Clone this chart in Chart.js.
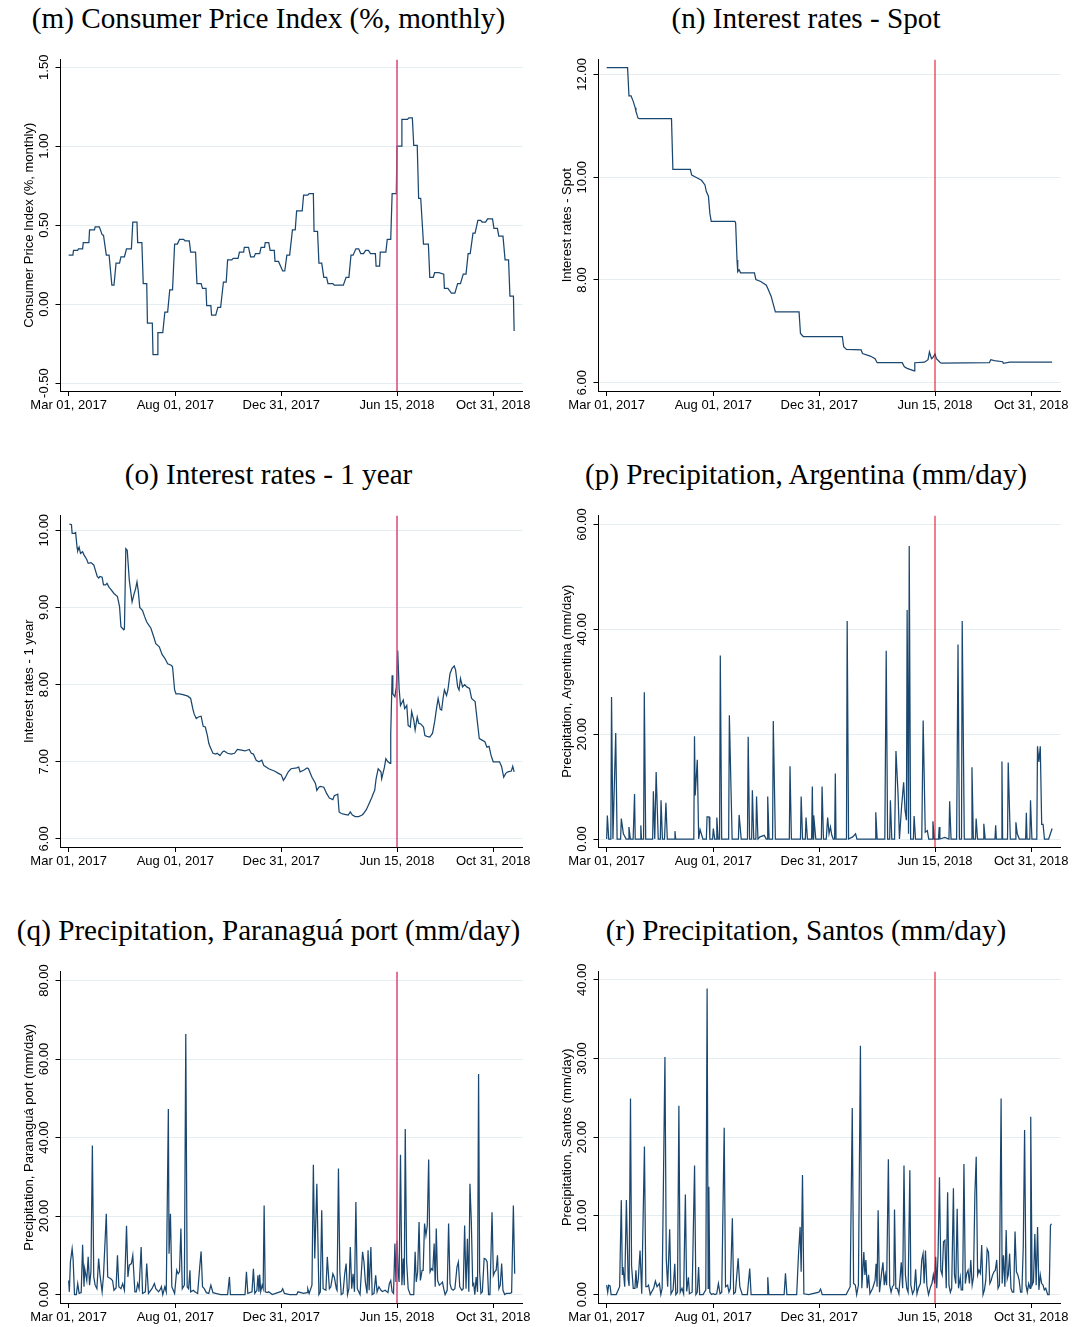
<!DOCTYPE html>
<html>
<head>
<meta charset="utf-8">
<script src="https://cdn.jsdelivr.net/npm/chart.js@4.4.1/dist/chart.umd.min.js"></script>
<style>
  body { margin: 0; background: #fff; }
  #page { position: relative; width: 1074px; height: 1327px; overflow: hidden; background: #fff; }
  .panel { position: absolute; }
  .panel h2 {
    position: absolute; left: 0; right: 0; top: 0; margin: 0;
    font: normal 29.2px "Liberation Serif", serif; line-height: 36px;
    text-align: center; color: #000; white-space: nowrap;
  }
  .panel canvas { position: absolute; left: 0; top: 0; }
</style>
</head>
<body>
<div id="page"></div>
<script>
// x values are days since Mar 01, 2017
const xTickDays = [0, 153, 305, 471, 609];
const xTickLabels = ["Mar 01, 2017", "Aug 01, 2017", "Dec 31, 2017", "Jun 15, 2018", "Oct 31, 2018"];
const eventDay = 471;

// (m) CPI, % monthly
const cpiTicks = [-0.5, 0, 0.5, 1, 1.5];
const cpiSeries = [[0,0.31],[6,0.31],[7,0.34],[13,0.34],[14,0.35],[20,0.35],[21,0.39],[29,0.39],[30,0.47],[37,0.47],[38,0.49],[44,0.49],[48,0.44],[50,0.435],[54,0.31],[58,0.31],[62,0.12],[65,0.12],[68,0.26],[73,0.26],[75,0.30],[80,0.30],[83,0.35],[90,0.35],[92,0.52],[98,0.52],[99,0.39],[105,0.39],[107,0.13],[112,0.13],[113,-0.12],[120,-0.12],[121,-0.32],[127,-0.32],[128,-0.18],[135,-0.18],[138,-0.05],[142,-0.05],[145,0.09],[149,0.09],[152,0.38],[156,0.38],[159,0.41],[165,0.41],[167,0.40],[173,0.40],[175,0.33],[182,0.33],[184,0.13],[190,0.13],[192,0.10],[197,0.10],[198,-0.01],[204,-0.01],[205,-0.07],[211,-0.07],[214,-0.02],[218,-0.02],[222,0.14],[226,0.14],[228,0.28],[234,0.28],[236,0.29],[243,0.29],[245,0.33],[251,0.33],[252,0.36],[258,0.36],[261,0.30],[266,0.30],[268,0.32],[274,0.32],[276,0.36],[281,0.36],[282,0.39],[287,0.39],[289,0.34],[295,0.34],[296,0.27],[301,0.27],[307,0.21],[310,0.21],[313,0.31],[317,0.31],[321,0.47],[325,0.47],[327,0.59],[335,0.59],[337,0.69],[343,0.69],[345,0.70],[351,0.70],[352,0.46],[357,0.46],[359,0.26],[363,0.26],[366,0.17],[370,0.17],[372,0.13],[379,0.13],[381,0.12],[394,0.12],[398,0.17],[402,0.17],[405,0.31],[408,0.31],[412,0.35],[416,0.35],[419,0.32],[423,0.32],[426,0.34],[430,0.34],[433,0.32],[440,0.32],[441,0.24],[446,0.24],[447,0.33],[455,0.33],[457,0.41],[462,0.41],[464,0.70],[470,0.70],[471,1.00],[477,1.00],[478,1.17],[486,1.17],[488,1.18],[493,1.18],[495,1.005],[500,1.005],[502,0.67],[505,0.67],[509,0.38],[516,0.38],[518,0.17],[523,0.17],[525,0.20],[531,0.20],[538,0.19],[539,0.10],[544,0.10],[549,0.07],[554,0.07],[558,0.13],[562,0.13],[566,0.19],[570,0.19],[573,0.32],[576,0.32],[580,0.45],[583,0.45],[587,0.53],[591,0.53],[593,0.52],[598,0.52],[601,0.54],[608,0.54],[610,0.48],[615,0.48],[617,0.43],[623,0.43],[626,0.28],[631,0.28],[633,0.05],[638,0.05],[639,-0.17]];

// (n) spot interest rate
const spotTicks = [6, 8, 10, 12];
const spotSeries = [[0,12.13],[30,12.13],[32,11.58],[35,11.58],[38,11.48],[41,11.35],[42,11.28],[45,11.15],[47,11.14],[93,11.14],[95,10.15],[120,10.15],[122,10.04],[128,10.0],[136,9.94],[141,9.85],[143,9.72],[146,9.63],[148,9.30],[150,9.14],[184,9.14],[185,9.11],[187,8.39],[188,8.16],[190,8.2],[192,8.14],[212,8.14],[214,8.01],[221,7.97],[229,7.90],[231,7.84],[236,7.68],[238,7.58],[242,7.38],[276,7.38],[278,6.96],[282,6.90],[338,6.90],[340,6.70],[344,6.65],[365,6.64],[367,6.57],[378,6.52],[385,6.47],[388,6.39],[424,6.39],[427,6.31],[431,6.28],[441,6.23],[442,6.39],[456,6.40],[461,6.45],[463,6.60],[466,6.47],[468,6.49],[471,6.56],[473,6.47],[478,6.40],[480,6.38],[549,6.39],[551,6.45],[556,6.43],[568,6.41],[569,6.38],[578,6.40],[639,6.40]];

// (o) 1-year interest rate
const oneYearTicks = [6, 7, 8, 9, 10];
const oneYearSeries = [[1,10.08],[4,10.07],[5,9.96],[8,9.96],[10,9.97],[12,9.78],[13,9.73],[15,9.78],[17,9.70],[20,9.72],[22,9.68],[26,9.62],[28,9.57],[32,9.58],[36,9.55],[41,9.40],[43,9.38],[45,9.40],[48,9.39],[50,9.29],[53,9.29],[55,9.31],[58,9.26],[60,9.24],[65,9.18],[70,9.14],[73,9.01],[75,8.75],[79,8.71],[80,8.72],[82,9.76],[84,9.74],[87,9.35],[91,9.07],[94,9.18],[96,9.24],[98,9.33],[100,9.20],[102,9.00],[106,8.96],[109,8.88],[112,8.81],[115,8.77],[118,8.73],[122,8.62],[125,8.53],[130,8.49],[134,8.39],[138,8.34],[142,8.27],[147,8.25],[149,8.23],[152,7.93],[154,7.88],[159,7.88],[164,7.87],[171,7.85],[175,7.82],[178,7.69],[180,7.62],[183,7.56],[186,7.58],[190,7.59],[193,7.46],[196,7.45],[199,7.34],[201,7.24],[203,7.19],[207,7.11],[211,7.10],[213,7.11],[217,7.08],[221,7.13],[223,7.14],[228,7.11],[233,7.10],[238,7.11],[242,7.16],[248,7.15],[253,7.14],[259,7.16],[262,7.11],[265,7.10],[269,7.02],[273,7.00],[277,7.02],[280,6.95],[287,6.91],[295,6.88],[301,6.85],[305,6.83],[308,6.76],[311,6.80],[315,6.87],[319,6.91],[327,6.92],[330,6.93],[332,6.87],[337,6.89],[342,6.92],[344,6.91],[349,6.80],[354,6.72],[356,6.63],[359,6.67],[361,6.68],[366,6.67],[370,6.59],[374,6.53],[379,6.51],[381,6.56],[386,6.58],[388,6.35],[391,6.33],[396,6.32],[401,6.31],[404,6.35],[407,6.31],[411,6.29],[416,6.29],[421,6.31],[423,6.33],[427,6.38],[431,6.46],[435,6.54],[437,6.59],[439,6.63],[441,6.78],[444,6.91],[448,6.87],[449,6.78],[453,6.93],[455,7.04],[458,7.00],[461,6.98],[462,7.36],[464,8.12],[465,7.88],[468,7.84],[470,7.97],[472,8.44],[474,7.95],[476,7.73],[480,7.80],[482,7.69],[485,7.73],[487,7.47],[490,7.45],[492,7.65],[495,7.54],[497,7.41],[500,7.58],[502,7.50],[505,7.49],[509,7.45],[511,7.34],[514,7.33],[518,7.32],[522,7.37],[525,7.52],[528,7.71],[530,7.82],[533,7.68],[535,7.67],[537,7.82],[539,7.93],[542,7.86],[544,7.93],[547,8.14],[550,8.21],[553,8.24],[555,8.19],[558,7.97],[560,7.93],[562,8.08],[565,7.97],[568,8.00],[571,7.97],[575,7.95],[578,7.82],[583,7.78],[586,7.54],[589,7.30],[593,7.28],[597,7.26],[600,7.19],[603,7.20],[606,7.08],[609,7.00],[613,7.00],[618,7.00],[621,6.94],[624,6.80],[627,6.85],[630,6.87],[635,6.88],[637,6.94],[639,6.87]];

// (p) precipitation, Argentina (mm/day)
const argentinaTicks = [0, 20, 40, 60];
const argentinaSeries = [[0,0],[1,4.5],[3,0],[6,0],[7,27.1],[9,0],[13,20.2],[15,0],[20,0],[21,3.9],[24,1.0],[28,0],[31,0],[32,2.3],[34,0],[38,0],[40,8.6],[41,0],[48,0],[49,2.6],[50,0],[53,0],[54,28],[56,0],[66,0],[67,9.1],[69,0],[71,12.8],[74,0],[77,0],[78,7.4],[80,0],[83,0],[85,6.9],[87,0],[97,0],[98,1.5],[99,0],[125,0],[126,19.6],[127,8.3],[130,15.1],[132,0],[134,1.8],[138,0],[143,0],[144,4.2],[147,4.2],[148,0],[152,0],[153,2.0],[155,0],[157,0],[158,4.1],[160,0],[162,0],[163,35],[165,0],[175,0],[176,23.6],[180,0],[189,0],[190,4.6],[193,0],[202,0],[203,19.5],[205,0],[208,0],[209,9.3],[211,0],[214,0],[215,8.1],[217,0],[220,0.4],[226,0.7],[229,0],[230,0],[231,8.1],[233,0],[238,0],[239,22.5],[242,0],[262,0],[263,13.9],[265,0],[278,0],[279,8.1],[281,0],[285,0],[286,4.1],[288,0],[294,0],[295,10.0],[296,0],[297,4.5],[300,0],[308,0],[309,10.0],[311,0],[315,0],[317,4.1],[319,1.0],[321,2.3],[323,0.7],[325,0],[327,0],[328,12.5],[329,0],[344,0],[345,41.6],[347,0],[353,0.4],[357,1.0],[359,0],[385,0],[386,5.1],[388,0],[399,0],[401,35.9],[403,0],[406,0],[407,7.4],[409,0],[413,0],[415,16.8],[418,8.5],[420,0],[423,6.1],[426,10.8],[428,5.5],[430,3.6],[431,43.7],[433,1.0],[434,55.9],[436,0],[440,0],[441,4.4],[443,0],[452,0],[454,22.6],[457,1.3],[460,1.6],[462,0],[467,0],[468,3.4],[470,0],[476,0],[477,2.3],[478,0],[485,0.3],[491,0],[492,7.2],[494,0],[502,0],[504,37.1],[506,0],[509,0],[510,41.6],[513,0],[523,0],[524,13.7],[526,0],[529,0],[530,3.9],[532,0],[540,0],[541,2.9],[543,0],[557,0],[558,2.6],[559,0],[566,0],[567,14.8],[568,0],[575,0],[576,14.6],[579,0],[586,0],[587,3.2],[589,1.0],[592,0],[601,0],[602,5.0],[603,0],[607,0],[608,7.4],[610,0],[617,0],[618,17.7],[620,14.7],[622,17.7],[624,2.8],[626,2.8],[628,0],[634,0],[639,2.0]];

// (q) precipitation, Paranaguá port (mm/day)
const paranaguaTicks = [0, 20, 40, 60, 80];
const paranaguaSeries = [[0,3.6],[1,0.7],[2.5,8.3],[5,11.7],[6.4,9.0],[8.4,0],[11,0],[13,2.8],[15,0.3],[18,0.5],[20,12.7],[22,2.0],[23,6.6],[26,3.6],[28,9.6],[30,2.4],[32,5.9],[34,38],[36,4.5],[38,2.4],[40.5,1.5],[43,9.2],[45,4.9],[48,0.7],[50,4.9],[54,20.6],[56,4.5],[60,4.1],[63,3.6],[65,1.1],[68,1.7],[70,10.0],[72,2.0],[75,1.5],[77.5,2.8],[80,1.1],[83,17.5],[85,4.5],[87,7.5],[90,7.9],[92,10.0],[95,0.7],[97,0.7],[99,2.8],[101,1.5],[104,12.1],[106,0.3],[110,0.7],[112,7.9],[114.5,0.3],[119.5,1.5],[123,2.8],[125,1.5],[129,0.7],[132,1.5],[133,2.0],[135,0],[138,2.0],[140,0.7],[143,47.3],[144,10.4],[146,20.6],[148,2.0],[152,0.3],[155,6.2],[157,5.3],[159,5.8],[161,16.8],[163,1.5],[166,2.4],[168,66.4],[170,2.0],[172,1.5],[174,6.2],[175,0.7],[179,1.1],[181,0.7],[185,0.3],[188,7.0],[190,11.0],[192,2.0],[194.5,1.5],[197.5,0.5],[201,0.3],[204,2.4],[207,0.5],[211,0.3],[218,0],[228,0],[230.6,4.5],[232,0],[253,0],[255,5.8],[257,0.3],[263,0.7],[265,6.6],[267,0.3],[270,1.1],[271.5,4.9],[273,0.7],[274,5.1],[275.5,0.8],[277.5,2.4],[279,1.5],[280.4,22.7],[282,0.7],[285,0.5],[287,0.7],[292,0],[305,0.8],[307,1.5],[309.5,0.3],[317,0],[327,0],[329,0.7],[337,0.3],[342,0.5],[343,1.5],[345,0.3],[349,2.4],[351,33.1],[353,9.2],[356,28.2],[359,0],[361,0.7],[363,21.5],[365,1.5],[369,1.1],[371,9.6],[374,1.5],[376,2.0],[379,5.3],[381,4.5],[384,1.5],[385,1.1],[387,32.1],[389,5.8],[391,0],[393.5,0.3],[396,5.3],[398,7.9],[400,0],[402,1.5],[404,12.1],[406,1.5],[408,5.3],[410,0.7],[412,23.6],[414,1.5],[418,0],[421.6,10.9],[423.6,8.3],[425.6,3.2],[428,0.3],[429.5,11.3],[431,1.1],[433.5,12.1],[435.4,0],[438,0.3],[440.4,4.9],[442.4,0.7],[445,2.0],[448,1.1],[450,0.8],[454,1.1],[458,0.5],[460,2.8],[462,3.6],[464,0.7],[466,0.3],[468,13.0],[469.5,3.2],[471,13.8],[472.5,5.8],[474,3.2],[476,35.6],[478,2.4],[480,9.2],[481.4,2.4],[482.8,42.2],[484.8,8.3],[487,1.5],[490,0],[495,0],[497,10.9],[498.6,3.2],[500.6,5.8],[502.6,18.5],[504.5,3.6],[507,6.2],[508.5,6.2],[510.5,18.1],[512.5,15.1],[514.4,17.6],[516.4,34.4],[518.4,5.8],[520.4,6.6],[522.3,6.2],[524.3,13.0],[525.8,2.0],[527.3,16.8],[529.2,3.6],[531.7,2.4],[534.2,2.8],[536.2,3.2],[538,1.5],[540,0],[543,1.1],[545,18.1],[547,2.8],[549,1.5],[551.4,1.1],[554,1.5],[557,7.0],[559,8.3],[561,2.0],[564,1.1],[566,1.5],[568,17.6],[570,1.5],[572,14.2],[574,0.7],[575.6,28.2],[577.6,18.5],[579.6,2.4],[581,2.8],[582.6,0],[584.5,4.5],[586.5,0.7],[588,56.2],[589.5,5.8],[591.4,0.3],[593.4,0.7],[596,9.2],[598.4,9.0],[600.3,8.3],[602.3,0],[604.3,0],[607.3,21.0],[609.2,4.9],[611.2,5.8],[613.2,6.2],[615.1,10.0],[617.1,1.5],[619.1,2.4],[621.1,7.9],[623,1.1],[625.5,0],[628,0.3],[633,0.3],[635.4,0.5],[637.9,22.7],[639.8,5.3]];

// (r) precipitation, Santos (mm/day)
const santosTicks = [0, 10, 20, 30, 40];
const santosSeries = [[0,1.2],[1.5,0.3],[2.9,1.2],[4.9,1.1],[6.4,0],[13.7,0],[18.6,1.0],[21,12.0],[22.5,2.5],[23.5,3.5],[25.9,1.0],[28.3,12.0],[30.8,2.0],[32.2,1.1],[34.2,24.9],[35.7,3.7],[38.1,0.8],[40.6,0.8],[42,3.1],[43.5,0.8],[45.4,2.0],[47.9,5.6],[50.3,0.1],[54.2,18.8],[56.2,1.0],[58.1,1.0],[60.1,1.2],[62.5,0],[67.4,0.8],[69.9,1.7],[72.3,1.0],[75.7,1.4],[77.7,0],[79.6,0.8],[83.6,30.2],[85.5,4.6],[87.5,1.0],[90.4,8.3],[92.3,0.1],[95.3,0.6],[97.7,3.9],[99.2,0],[101.6,0.3],[103.6,24.0],[105.5,0.3],[108,0.8],[110.4,0.1],[112.9,12.7],[114.8,0.4],[117.3,2.2],[118.7,0.1],[122.6,0.3],[126.1,16.4],[128,0],[130,0.3],[131.9,3.5],[133.4,0],[138.3,0],[142.2,0.6],[144.1,38.9],[145.6,0.8],[146.6,13.7],[148,0.3],[150.5,0],[152.9,0.1],[155.4,0],[157.8,0.1],[160.3,1.4],[162.7,0.1],[165.1,0.3],[168.6,21.2],[170.5,1.0],[173.5,1.2],[175.4,0.3],[177.4,0.8],[180.3,9.7],[182.2,0.1],[184.7,0.3],[188.6,4.6],[191,1.0],[194.5,0],[201.8,0],[205.2,3.3],[207.2,0],[216.5,0],[230.1,0],[231.1,2.2],[232.6,0],[254.6,0],[256.5,2.7],[258.5,0],[272.6,0],[275.1,5.0],[277.5,8.6],[279,2.9],[280.9,15.2],[282.9,0.1],[289.7,0],[304.4,0.3],[306.8,0.7],[309.3,0],[343.5,0],[349.3,1.0],[352.3,23.7],[354.2,1.4],[356.7,1.2],[358.6,0],[361.1,1.2],[364,31.6],[366,0.8],[368.9,5.4],[370.4,2.5],[371.8,4.4],[373.8,0.8],[375.7,2.5],[377.7,0.1],[381.6,0.8],[385,1.8],[386.5,3.9],[387.9,1.0],[389.4,10.7],[391.4,0.3],[394.3,2.7],[396.3,4.1],[398.2,1.2],[399.7,2.5],[401.6,1.2],[404.1,17.2],[406,1.2],[408,0.3],[409.9,1.0],[411.9,1.2],[412.9,10.8],[414.8,0.8],[416.8,0.8],[419.2,0.1],[422.6,4.1],[424.6,0.8],[426.5,16.4],[428.5,2.5],[430.5,0.8],[432.4,0.3],[434.9,15.8],[436.3,1.2],[438.8,0.1],[441.2,0.6],[443.2,3.2],[445.1,0.1],[447.1,0.8],[450,1.4],[452,4.4],[453.9,5.2],[455.4,1.4],[457.3,5.6],[459.3,1.2],[461.7,0],[464.7,1.0],[466.6,1.4],[468.6,2.5],[470.5,1.4],[472,4.8],[473.5,0.8],[475.4,5.2],[477.4,14.9],[479.3,3.1],[481.3,2.5],[483.2,6.7],[485.2,6.9],[487.1,0.8],[489.1,13.0],[491,1.2],[493,0.3],[494.9,0.8],[497.4,13.5],[498.9,2.5],[500.8,1.4],[502.8,10.9],[504.7,0.8],[507.2,2.2],[508.6,0.6],[510.6,0.6],[512.5,16.6],[514.5,1.4],[516.5,2.7],[518.4,3.1],[520.4,1.4],[522.3,4.4],[524.3,1.2],[526.2,2.2],[528.2,12.8],[530.1,17.5],[532.1,2.5],[534,3.1],[536,2.7],[538,6.3],[539.9,0],[541.9,0.6],[543.8,1.8],[545.8,5.8],[547.7,5.4],[549.7,1.4],[551.6,1.8],[553.6,2.5],[555.6,2.9],[557.5,3.1],[559.5,4.4],[561.4,0.8],[563.4,1.2],[565.8,24.9],[567.3,1.4],[569.2,5.0],[571.2,1.0],[573.1,8.2],[574.6,2.0],[576.1,2.5],[578,5.2],[580,0.8],[581.9,0.3],[583.9,0.3],[585.8,8.0],[587.8,2.9],[589.8,2.5],[591.7,1.8],[593.7,0.3],[595.6,0.3],[597.6,6.1],[599.5,20.9],[601.5,1.2],[603.4,0.3],[605.4,1.4],[607.3,0.8],[608.3,22.6],[610.3,1.2],[612.2,1.6],[614.2,7.7],[616.1,1.2],[618.1,8.6],[620,0.6],[622,2.5],[624,1.4],[625.9,1.2],[627.8,0.6],[629.8,0.8],[632.7,0],[634.7,0],[636.6,8.8],[638.1,9.0]];

const navy = "#1a476f";
const gridColor = "#e4edf0";
const sans = "'Liberation Sans', Arial, sans-serif";
const xMin = -11.7, xMax = 651;

// chart area inside each panel canvas
const AREA_LEFT = 60.5, AREA_RIGHT = 522.5, AREA_TOP = 59.5, AREA_BOTTOM = 391, X_AXIS_H = 22;
const Y_TICK_SIZE = 13;

const panels = [
  { title: "(m) Consumer Price Index (%, monthly)", yTitle: "Consumer Price Index (%, monthly)", series: cpiSeries, yTicks: cpiTicks, yMin: -0.55, yMax: 1.549, col: 0, row: 0 },
  { title: "(n) Interest rates - Spot", yTitle: "Interest rates - Spot", series: spotSeries, yTicks: spotTicks, yMin: 5.84, yMax: 12.29, col: 1, row: 0 },
  { title: "(o) Interest rates - 1 year", yTitle: "Interest rates - 1 year", series: oneYearSeries, yTicks: oneYearTicks, yMin: 5.896, yMax: 10.19, col: 0, row: 1 },
  { title: "(p) Precipitation, Argentina (mm/day)", yTitle: "Precipitation, Argentina (mm/day)", series: argentinaSeries, yTicks: argentinaTicks, yMin: -1.525, yMax: 61.72, col: 1, row: 1 },
  { title: "(q) Precipitation, Paranaguá port (mm/day)", yTitle: "Precipitation, Paranaguá port (mm/day)", series: paranaguaSeries, yTicks: paranaguaTicks, yMin: -2.14, yMax: 82.29, col: 0, row: 2 },
  { title: "(r) Precipitation, Santos (mm/day)", yTitle: "Precipitation, Santos (mm/day)", series: santosSeries, yTicks: santosTicks, yMin: -1.07, yMax: 41.05, col: 1, row: 2 },
];

const page = document.getElementById("page");
const measureCtx = document.createElement("canvas").getContext("2d");
measureCtx.font = Y_TICK_SIZE + "px " + sans;

function makePanel(p) {
  const left = p.col === 0 ? 0 : 538;
  const width = p.col === 0 ? 537 : 536;
  const top = p.row * 456;
  const height = Math.min(456, 1327 - top);

  const div = document.createElement("div");
  div.className = "panel";
  div.style.left = left + "px";
  div.style.top = top + "px";
  div.style.width = width + "px";
  div.style.height = height + "px";

  const h = document.createElement("h2");
  h.textContent = p.title;
  div.appendChild(h);

  const canvas = document.createElement("canvas");
  canvas.width = width;
  canvas.height = height;
  div.appendChild(canvas);
  page.appendChild(div);

  // rotated tick labels: centre them about 16px left of the axis
  const labels = p.yTicks.map(v => v.toFixed(2));
  const widest = Math.max(...labels.map(t => measureCtx.measureText(t).width));
  const tickPad = 16.5 - 5 - widest / 2;

  new Chart(canvas, {
    type: "line",
    data: {
      datasets: [
        {
          data: p.series.map(([x, y]) => ({ x, y })),
          borderColor: navy,
          borderWidth: 1.25,
          pointRadius: 0,
          tension: 0,
          order: 2,
        },
        {
          data: [{ x: eventDay, y: p.yMin }, { x: eventDay, y: p.yMax }],
          borderColor: p.col === 0 ? "#d9467a" : "#e2001a",
          borderWidth: p.col === 0 ? 1.5 : 1,
          pointRadius: 0,
          order: 1,
        },
      ],
    },
    options: {
      responsive: false,
      animation: false,
      devicePixelRatio: 1,
      events: [],
      layout: {
        padding: { left: 0, right: width - AREA_RIGHT, top: AREA_TOP, bottom: height - AREA_BOTTOM - X_AXIS_H },
      },
      plugins: { legend: { display: false }, tooltip: { enabled: false } },
      scales: {
        x: {
          type: "linear",
          min: xMin,
          max: xMax,
          afterBuildTicks: s => { s.ticks = xTickDays.map(v => ({ value: v })); },
          afterFit: s => { s.height = X_AXIS_H; s.paddingLeft = 0; s.paddingRight = 0; },
          ticks: {
            autoSkip: false, maxRotation: 0, minRotation: 0, padding: 2,
            color: "#000", font: { family: sans, size: 13 },
            callback: v => xTickLabels[xTickDays.indexOf(v)],
          },
          grid: { drawOnChartArea: false, drawTicks: true, tickLength: 5, tickColor: "#000" },
          border: { color: "#000", width: 1 },
        },
        y: {
          type: "linear",
          min: p.yMin,
          max: p.yMax,
          afterBuildTicks: s => { s.ticks = p.yTicks.map(v => ({ value: v })); },
          afterFit: s => { s.width = AREA_LEFT; s.paddingTop = 0; s.paddingBottom = 0; },
          ticks: {
            minRotation: 90, maxRotation: 90, crossAlign: "center", padding: tickPad,
            color: "#000", font: { family: sans, size: Y_TICK_SIZE },
            callback: v => v.toFixed(2),
          },
          grid: { color: gridColor, lineWidth: 1, drawTicks: true, tickLength: 5, tickColor: "#000" },
          border: { color: "#000", width: 1 },
          title: {
            display: true, text: p.yTitle, color: "#000",
            font: { family: sans, size: 13 }, padding: { top: 21.5, bottom: 0 },
          },
        },
      },
    },
  });
}

panels.forEach(makePanel);
</script>
</body>
</html>
